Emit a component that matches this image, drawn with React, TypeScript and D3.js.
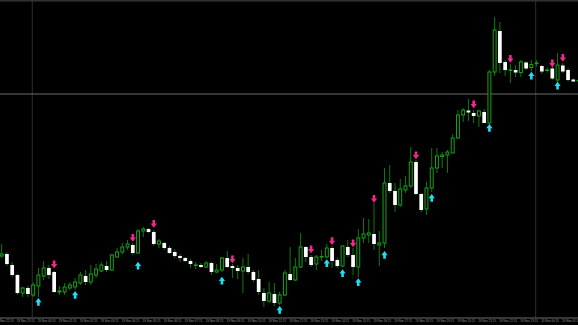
import React from "react";
import * as d3 from "d3";

const W = 578;
const H = 325;

// OHLC of M15 bars (prices)
const opens = [
  1.3044, 1.3046, 1.3035, 1.3025, 1.3007, 1.3012, 1.3005, 1.3014, 1.3024, 1.3032,
  1.3028, 1.3008, 1.3008, 1.3012, 1.3013, 1.3017, 1.3024, 1.3018, 1.3025, 1.3029,
  1.3034, 1.3030, 1.3043, 1.3048, 1.3053, 1.3055, 1.3047, 1.3069, 1.3071, 1.3068,
  1.3056, 1.3057, 1.3052, 1.3048, 1.3044, 1.3042, 1.3039, 1.30345, 1.3035, 1.3033,
  1.3037, 1.3028, 1.3030, 1.3042, 1.3034, 1.3032, 1.3029, 1.3033, 1.3028, 1.3021,
  1.3007, 1.2999, 1.3006, 1.2997, 1.3005, 1.3026, 1.3020, 1.3033, 1.3053, 1.3043,
  1.3036, 1.3043, 1.3043, 1.3052, 1.3040, 1.3034, 1.3053, 1.3045, 1.3033, 1.3062,
  1.3065, 1.3066, 1.3055, 1.3057, 1.3117, 1.3109, 1.3095, 1.3110, 1.3114, 1.3138,
  1.3106, 1.3091, 1.3112, 1.3132, 1.31435, 1.3145, 1.3147, 1.3162, 1.3185, 1.31895,
  1.3187, 1.3184, 1.3188, 1.3177, 1.3228, 1.3269, 1.3238, 1.32295, 1.3230, 1.32275,
  1.32375, 1.32325, 1.32365, 1.3234, 1.32295, 1.32315, 1.3220, 1.32345, 1.3230, 1.32205,
  1.32195,
];
const highs = [
  1.3056, 1.3048, 1.3038, 1.3026, 1.3013, 1.3014, 1.3018, 1.3032, 1.3039, 1.3035,
  1.3029, 1.3014, 1.3017, 1.3018, 1.3022, 1.3028, 1.3030, 1.3035, 1.3036, 1.3038,
  1.3039, 1.3046, 1.3052, 1.3057, 1.3060, 1.3057, 1.3071, 1.3073, 1.3072, 1.3070,
  1.3061, 1.3058, 1.3054, 1.3051, 1.3046, 1.3043, 1.3041, 1.3038, 1.3037, 1.3039,
  1.3038, 1.3036, 1.3043, 1.3049, 1.3036, 1.3035, 1.3042, 1.3046, 1.3030, 1.3030,
  1.3012, 1.3018, 1.3017, 1.3008, 1.3030, 1.3053, 1.3042, 1.3067, 1.3054, 1.3045,
  1.3045, 1.3050, 1.3056, 1.3054, 1.3042, 1.3055, 1.3060, 1.3052, 1.3071, 1.3082,
  1.3081, 1.3097, 1.3069, 1.3132, 1.3135, 1.3117, 1.3121, 1.3124, 1.3153, 1.3140,
  1.3107, 1.3118, 1.3152, 1.3152, 1.3148, 1.3150, 1.3166, 1.3190, 1.3192, 1.3201,
  1.3190, 1.3190, 1.3191, 1.3230, 1.3283, 1.3278, 1.3240, 1.3236, 1.3235, 1.3240,
  1.32385, 1.3240, 1.3240, 1.3235, 1.32325, 1.3235, 1.3247, 1.3237, 1.3232, 1.32215,
  1.3220,
];
const lows = [
  1.3042, 1.3034, 1.3023, 1.3005, 1.3003, 1.3003, 1.3003, 1.3003, 1.3020, 1.3021,
  1.3007, 1.3005, 1.3005, 1.3010, 1.3010, 1.3015, 1.3015, 1.3015, 1.3022, 1.3028,
  1.3028, 1.3029, 1.3042, 1.3046, 1.3050, 1.3045, 1.3046, 1.3063, 1.3067, 1.3054,
  1.3052, 1.3050, 1.3046, 1.3042, 1.3038, 1.3038, 1.3032, 1.3031, 1.3032, 1.3032,
  1.3025, 1.3027, 1.3028, 1.3032, 1.3022, 1.3021, 1.3007, 1.3026, 1.3018, 1.3005,
  1.2993, 1.2997, 1.2994, 1.2995, 1.3004, 1.3019, 1.3019, 1.3032, 1.3038, 1.3033,
  1.3030, 1.3039, 1.3042, 1.3032, 1.3032, 1.3033, 1.3043, 1.3025, 1.3023, 1.3057,
  1.3057, 1.3050, 1.3034, 1.3052, 1.3107, 1.3088, 1.3093, 1.3107, 1.3112, 1.3105,
  1.3088, 1.3085, 1.3108, 1.3127, 1.3132, 1.3127, 1.3147, 1.3161, 1.3178, 1.3179,
  1.3177, 1.3173, 1.3177, 1.3176, 1.3224, 1.3227, 1.3224, 1.3217, 1.3223, 1.3223,
  1.3230, 1.32285, 1.32335, 1.3226, 1.32275, 1.3220, 1.3218, 1.3227, 1.32185, 1.3218,
  1.3219,
];
const closes = [
  1.3046, 1.3036, 1.3025, 1.3007, 1.3012, 1.3006, 1.3015, 1.3025, 1.3032, 1.3025,
  1.3008, 1.3009, 1.3013, 1.3015, 1.3018, 1.3025, 1.3018, 1.3026, 1.3031, 1.3035,
  1.3030, 1.3045, 1.3048, 1.3053, 1.3056, 1.3047, 1.3069, 1.3071, 1.3068, 1.3056,
  1.3059, 1.3052, 1.3047, 1.3044, 1.3042, 1.3039, 1.3036, 1.3035, 1.3033, 1.3037,
  1.3028, 1.3030, 1.3042, 1.3033, 1.3032, 1.3029, 1.3033, 1.3028, 1.3020, 1.3008,
  1.2999, 1.3007, 1.2997, 1.3005, 1.3027, 1.3020, 1.3033, 1.3053, 1.3043, 1.3035,
  1.3043, 1.30435, 1.3052, 1.3039, 1.3034, 1.3054, 1.3045, 1.3033, 1.3062, 1.3066,
  1.3067, 1.3056, 1.3057, 1.3117, 1.3109, 1.3095, 1.3111, 1.3114, 1.3138, 1.3106,
  1.3090, 1.3112, 1.3132, 1.3144, 1.3145, 1.3148, 1.3162, 1.3185, 1.3190, 1.31875,
  1.3184, 1.3189, 1.3177, 1.3228, 1.3270, 1.3237, 1.3230, 1.3230, 1.32275, 1.3238,
  1.32315, 1.32355, 1.3237, 1.32285, 1.3230, 1.32215, 1.3235, 1.32285, 1.3220, 1.32185,
  1.32195,
];

// Indicator arrows: bar index and arrow-tip price
const sellBars = [10, 25, 29, 44, 59, 63, 67, 71, 79, 90, 97, 105, 107];
const sellTips = [1.30317, 1.30583, 1.30723, 1.30367, 1.30467, 1.3055, 1.30527, 1.30973, 1.31407, 1.31917, 1.32373, 1.32327, 1.32383];
const buyBars = [7, 14, 26, 42, 53, 62, 65, 68, 73, 82, 93, 101, 106];
const buyTips = [1.3002, 1.3009, 1.30383, 1.30233, 1.2994, 1.30407, 1.30307, 1.30217, 1.3049, 1.3106, 1.3176, 1.32283, 1.32183];

// Price line and period separators
const priceLine = 1.3206;
const separatorBars = [6, 102];

// Time axis labels (every 4 bars)
const labelBars = [-1, 3, 7, 11, 15, 19, 23, 27, 31, 35, 39, 43, 47, 51, 55, 59, 63, 67, 71, 75, 79, 83, 87, 91, 95, 99, 103, 107];
const labelTexts = [
  "18 Nov 22:15", "18 Nov 23:15", "19 Nov 00:15", "19 Nov 01:15", "19 Nov 02:15", "19 Nov 03:15",
  "19 Nov 04:15", "19 Nov 05:15", "19 Nov 06:15", "19 Nov 07:15", "19 Nov 08:15", "19 Nov 09:15",
  "19 Nov 10:15", "19 Nov 11:15", "19 Nov 12:15", "19 Nov 13:15", "19 Nov 14:15", "19 Nov 15:15",
  "19 Nov 16:15", "19 Nov 17:15", "19 Nov 18:15", "19 Nov 19:15", "19 Nov 20:15", "19 Nov 21:15",
  "19 Nov 22:15", "19 Nov 23:15", "20 Nov 00:15", "20 Nov 01:15",
];

const WICK = "#0d7a0d";
const OUTLINE = "#14a514";
const PINK = "#f2288e";
const CYAN = "#1fdff5";

export default function App() {
  const x = d3.scaleLinear().domain([0, 109]).range([1.7, 573.3]);
  const y = d3.scaleLinear().domain([1.2975, 1.33]).range([H, 0]);
  const bars = d3.range(opens.length);
  const bw = 3.7;

  const downArrow = (cx: number, tip: number) =>
    `M${cx - 1.3},${tip - 7.8}L${cx + 1.3},${tip - 7.8}L${cx + 1.3},${tip - 4.3}L${cx + 3.1},${tip - 4.3}L${cx},${tip}L${cx - 3.1},${tip - 4.3}L${cx - 1.3},${tip - 4.3}Z`;
  const upArrow = (cx: number, tip: number) =>
    `M${cx - 1.3},${tip + 7.8}L${cx + 1.3},${tip + 7.8}L${cx + 1.3},${tip + 4.3}L${cx + 3.1},${tip + 4.3}L${cx},${tip}L${cx - 3.1},${tip + 4.3}L${cx - 1.3},${tip + 4.3}Z`;

  return (
    <svg
      width={W}
      height={H}
      style={{ position: "fixed", left: 0, top: 0, display: "block", background: "#000" }}
    >
      <rect x={0} y={0} width={W} height={H} fill="#000" />
      <rect x={0} y={0} width={W} height={1.6} fill="#303030" />

      {/* period separators */}
      {separatorBars.map((b) => (
        <line
          key={"sep" + b}
          x1={x(b) - 0.9}
          x2={x(b) - 0.9}
          y1={1.6}
          y2={317.5}
          stroke="#5e5e5e"
          strokeWidth={1}
          strokeDasharray="1 1"
        />
      ))}

      {/* price line */}
      <line x1={0} x2={W} y1={y(priceLine)} y2={y(priceLine)} stroke="#6c6c6c" strokeWidth={1} />

      {/* candles */}
      {bars.map((i) => {
        const cx = x(i);
        const o = y(opens[i]);
        const c = y(closes[i]);
        const hi = y(highs[i]);
        const lo = y(lows[i]);
        const bull = closes[i] >= opens[i];
        const top = Math.min(o, c);
        const h = Math.abs(o - c);
        return (
          <g key={i}>
            <line x1={cx} x2={cx} y1={hi} y2={lo} stroke={WICK} strokeWidth={1} />
            {bull ? (
              <rect
                x={cx - bw / 2 + 0.4}
                y={top}
                width={bw - 0.8}
                height={Math.max(h, 0.3)}
                fill="#000"
                stroke={OUTLINE}
                strokeWidth={1}
              />
            ) : (
              <rect x={cx - bw / 2} y={top} width={bw} height={Math.max(h, 1)} fill="#fff" />
            )}
          </g>
        );
      })}

      {/* arrows */}
      {sellBars.map((b, k) => (
        <path key={"s" + b} d={downArrow(x(b), y(sellTips[k]))} fill={PINK} />
      ))}
      {buyBars.map((b, k) => (
        <path key={"b" + b} d={upArrow(x(b), y(buyTips[k]))} fill={CYAN} />
      ))}

      {/* time axis */}
      <line x1={0} x2={W} y1={318} y2={318} stroke="#4a4a4a" strokeWidth={1.5} />
      {labelBars.map((b, k) => (
        <text
          key={"t" + b}
          x={x(b) - 0.7}
          y={322.4}
          fontFamily="Liberation Sans, Arial, sans-serif"
          fontSize={3}
          fill="#9a9a9a"
        >
          {labelTexts[k]}
        </text>
      ))}
    </svg>
  );
}
